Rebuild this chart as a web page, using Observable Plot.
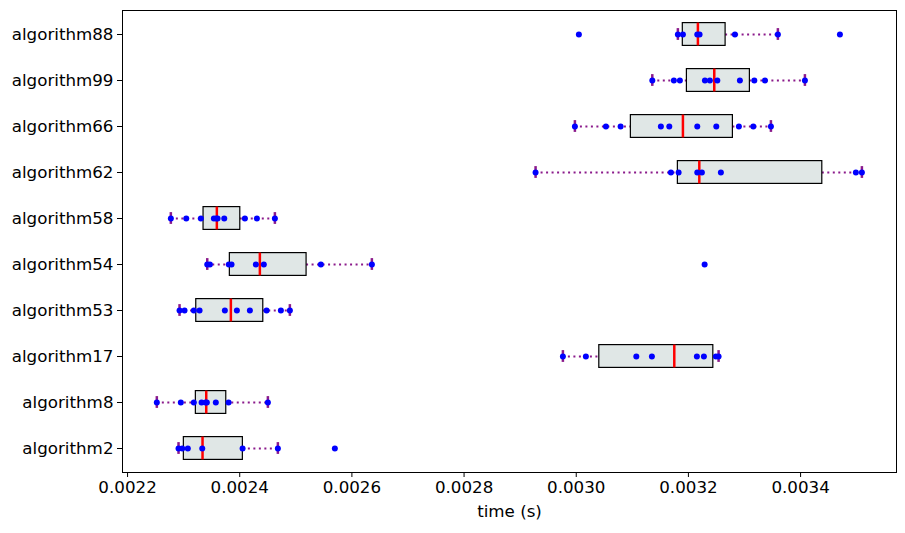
<!DOCTYPE html>
<html>
<head>
<meta charset="utf-8">
<script src="https://cdn.jsdelivr.net/npm/d3@7"></script>
<script src="https://cdn.jsdelivr.net/npm/@observablehq/plot@0.6"></script>
<style>
  html, body { margin: 0; padding: 0; background: #fff; }
  #chart svg { display: block; }
</style>
</head>
<body>
<div id="chart"></div>
<script>
// Categories, top to bottom
const algorithms = ["algorithm88","algorithm99","algorithm66","algorithm62","algorithm58","algorithm54","algorithm53","algorithm17","algorithm8","algorithm2"];

// Box statistics (seconds)
const q1      = [0.0031900,0.0031973,0.0030974,0.0031812,0.0023355,0.0023824,0.0023225,0.0030411,0.0023218,0.0023004];
const medians = [0.0032169,0.0032461,0.0031902,0.0032194,0.0023592,0.0024359,0.0023842,0.0031748,0.0023403,0.0023337];
const q3      = [0.0032663,0.0033096,0.0032793,0.0034387,0.0024010,0.0025192,0.0024420,0.0032444,0.0023760,0.0024056];
const whiskLo = [0.0031812,0.0031356,0.0029976,0.0029275,0.0022772,0.0023421,0.0022927,0.0029762,0.0022522,0.0022909];
const whiskHi = [0.0033595,0.0034077,0.0033471,0.0035093,0.0024627,0.0026356,0.0024894,0.0032538,0.0024502,0.0024680];

// Individual measurements (seconds)
const times88 = [0.0030047,0.0031812,0.0031902,0.0032158,0.0032199,0.0032829,0.0033595,0.0034701];
const times99 = [0.0031356,0.0031741,0.0031848,0.0032294,0.0032383,0.0032515,0.0032918,0.0033175,0.0033364,0.0034077];
const times66 = [0.0029976,0.0030529,0.0030791,0.0031509,0.0031659,0.0032158,0.0032497,0.0032900,0.0033157,0.0033471];
const times62 = [0.0029275,0.0031688,0.0031825,0.0032158,0.0032240,0.0032579,0.0034986,0.0035093];
const times58 = [0.0022772,0.0023047,0.0023307,0.0023539,0.0023582,0.0023605,0.0023724,0.0024092,0.0024306,0.0024627];
const times54 = [0.0023421,0.0023468,0.0023806,0.0023854,0.0024288,0.0024430,0.0025447,0.0026356,0.0032289];
const times53 = [0.0022927,0.0023016,0.0023182,0.0023284,0.0023735,0.0023949,0.0024181,0.0024479,0.0024734,0.0024894];
const times17 = [0.0029762,0.0030172,0.0031071,0.0031349,0.0032151,0.0032276,0.0032490,0.0032538];
const times8  = [0.0022522,0.0022950,0.0023182,0.0023320,0.0023391,0.0023414,0.0023574,0.0023801,0.0024502];
const times2  = [0.0022909,0.0022975,0.0023075,0.0023332,0.0024051,0.0024680,0.0025696];

const xTicks = [0.0022,0.0024,0.0026,0.0028,0.0030,0.0032,0.0034];

const allTimes = [times88,times99,times66,times62,times58,times54,times53,times17,times8,times2];
const stats = algorithms.map((name, i) => ({name, q1: q1[i], med: medians[i], q3: q3[i], lo: whiskLo[i], hi: whiskHi[i]}));
const points = algorithms.flatMap((name, i) => allTimes[i].map(t => ({name, t})));

const band = 46.2;
const boxInset = (band - 23) / 2;
const capInset = (band - 12) / 2;

const chart = Plot.plot({
  width: 905,
  height: 533,
  marginLeft: 122,
  marginRight: 9,
  marginTop: 10,
  marginBottom: 61,
  style: {fontFamily: "'DejaVu Sans', sans-serif", fontSize: "16.7px", color: "#000", background: "#fff"},
  x: {domain: [0.002191, 0.003571]},
  y: {type: "band", domain: algorithms, padding: 0},
  marks: [
    Plot.ruleY(stats, {y: "name", x1: "lo", x2: "q1", stroke: "#8b1a8b", strokeWidth: 2, strokeDasharray: "2,3.5"}),
    Plot.ruleY(stats, {y: "name", x1: "q3", x2: "hi", stroke: "#8b1a8b", strokeWidth: 2, strokeDasharray: "2,3.5"}),
    Plot.barX(stats, {y: "name", x1: "q1", x2: "q3", fill: "#e0e7e6", stroke: "#000", strokeWidth: 1.2, insetTop: boxInset, insetBottom: boxInset}),
    Plot.tickX(stats, {y: "name", x: "med", stroke: "#ff0000", strokeWidth: 2.5, insetTop: boxInset, insetBottom: boxInset}),
    Plot.tickX(stats, {y: "name", x: "lo", stroke: "#8b1a8b", strokeWidth: 2.5, insetTop: capInset, insetBottom: capInset}),
    Plot.tickX(stats, {y: "name", x: "hi", stroke: "#8b1a8b", strokeWidth: 2.5, insetTop: capInset, insetBottom: capInset}),
    Plot.dot(points, {y: "name", x: "t", r: 3, fill: "#0000ff", stroke: "none"}),
    Plot.frame({stroke: "#000", strokeWidth: 1}),
    Plot.axisY({tickSize: 5, tickPadding: 4, fontSize: 16.7, label: null}),
    Plot.axisX({ticks: xTicks, tickSize: 5, tickPadding: 4, fontSize: 16.7, tickFormat: d3.format(".4f"), label: null}),
    Plot.text(["time (s)"], {frameAnchor: "bottom", dy: 44, fontSize: 16.7})
  ]
});
document.getElementById("chart").appendChild(chart);
</script>
</body>
</html>
